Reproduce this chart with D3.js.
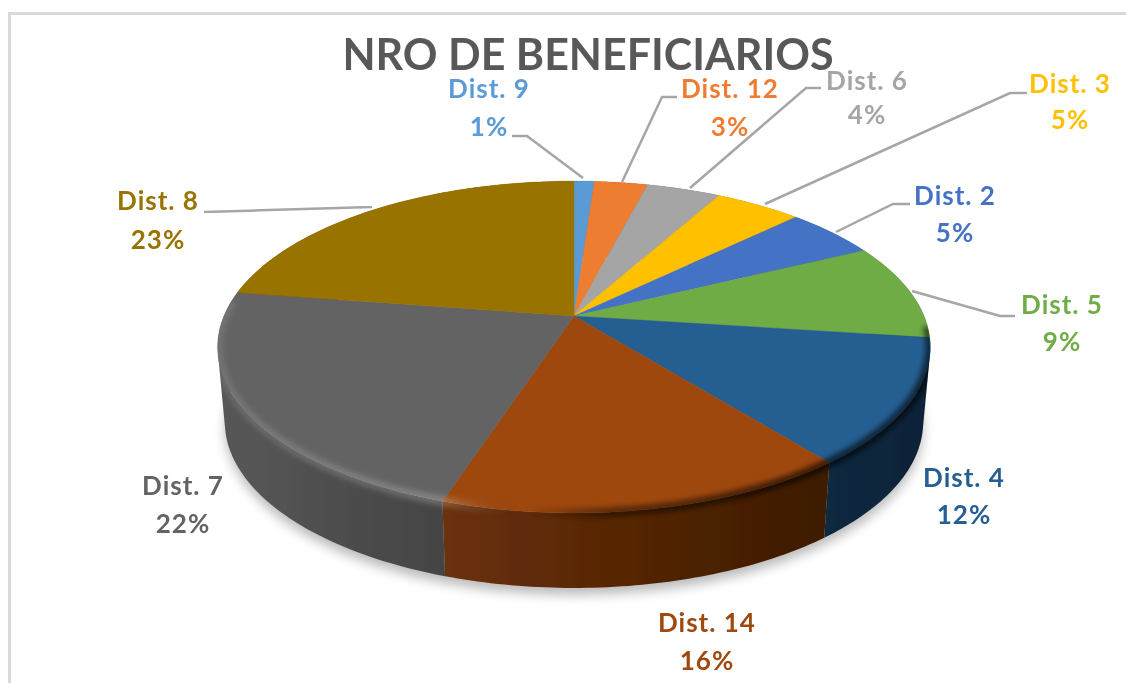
<!DOCTYPE html>
<html><head><meta charset="utf-8">
<script src="https://cdn.jsdelivr.net/npm/d3@7/dist/d3.min.js"></script>
<style>html,body{margin:0;padding:0;background:#fff;overflow:hidden}svg{display:block}text{font-family:Lato,"Noto Sans",sans-serif;font-weight:700}</style>
</head><body><svg id="c" width="1126" height="683"></svg>
<script>
const categories=["Dist. 9","Dist. 12","Dist. 6","Dist. 3","Dist. 2","Dist. 5","Dist. 4","Dist. 14","Dist. 7","Dist. 8"];
const shares=[1.1,2.9,4.0,4.7,5.0,9.4,12.2,15.7,22.4,22.6];
const faceColors=["#5b9bd5","#ed7d31","#a5a5a5","#ffc000","#4472c4","#6fac46","#255e91","#9e480e","#636363","#997300"];
const labelColors=["#5b9bd5","#ed7d31","#a5a5a5","#ffc000","#4472c4","#70ad47","#255e91","#9e480e","#636363","#997300"];
const sideLeft=["#3a5f80","#8f4b1d","#636363","#997300","#294477","#43682b","#10293f","#6b3008","#585858","#5c4500"];
const sideRight=["#3a5f80","#8f4b1d","#636363","#997300","#294477","#2f4a1e","#0d2237","#3c1a03","#444444","#5c4500"];
const labelX=[489,730,867,1070,955,1062,964,707,183,158];
const labelY1=[89,89,81,84,196,305,478,623,486,201];
const labelY2=[127,127,115,120,233,342,515,661,524,240];
const leaders=[
 [[512,136],[527,136],[583,178]],
 [[677,97],[662,97],[622,182]],
 [[821,88],[806,88],[690,188]],
 [[1027,93],[1010,93],[765,204]],
 [[910,204],[893,204],[836,232]],
 [[1015,316],[1000,316],[912,291]],
 [],[],[],
 [[204,212],[372,207]]
];
const svg=d3.select("#c");
const cx=574,apexY=316,C=350,B=101,K=-0.187,depth=75,baseScale=0.98;
function proj(theta,r=1,d=0){
  const x=r*Math.sin(theta),y=-r*Math.cos(theta),w=1+K*y;
  const s=d?baseScale:1;
  return [cx+s*C*x/w,(apexY+B*y)/w+d];
}
const pieGen=d3.pie().sort(null).value(d=>d).startAngle(0).endAngle(2*Math.PI);
const arcs=pieGen(shares);
const line=d3.line();
function arcPts(a0,a1,d=0){
  return d3.range(0,61).map(i=>proj(a0+(a1-a0)*i/60,1,d));
}
const defs=svg.append("defs");
const blur=(id,s)=>defs.append("filter").attr("id",id).attr("x","-20%").attr("y","-20%").attr("width","140%").attr("height","140%").append("feGaussianBlur").attr("stdDeviation",s);
blur("sh",6);blur("rim",2.6);blur("soft",0.6);blur("txt",0.45);
arcs.forEach((a,i)=>{
  const g=defs.append("linearGradient").attr("id","side"+i).attr("gradientUnits","userSpaceOnUse");
  const xs=arcPts(a.startAngle,a.endAngle).map(p=>p[0]);
  g.attr("x1",d3.min(xs)).attr("x2",d3.max(xs)).attr("y1",0).attr("y2",0);
  g.append("stop").attr("offset",0).attr("stop-color",sideLeft[i]);
  g.append("stop").attr("offset",1).attr("stop-color",sideRight[i]);
});
const rimG=defs.append("linearGradient").attr("id","rimG").attr("gradientUnits","userSpaceOnUse").attr("x1",218).attr("x2",930).attr("y1",0).attr("y2",0);
[[0,"#fff",0.1],[0.32,"#fff",0.2],[0.43,"#000",0.0],[0.55,"#000",0.4],[0.85,"#000",0.6],[1,"#000",0.55]].forEach(s=>rimG.append("stop").attr("offset",s[0]).attr("stop-color",s[1]).attr("stop-opacity",s[2]));
// outline of the whole solid
const full=arcPts(0,2*Math.PI), fullBase=arcPts(0,2*Math.PI,depth);
const hull=d3.polygonHull(full.concat(fullBase));
defs.append("clipPath").attr("id","solid").append("path").attr("d",line(hull)+"Z");

// frame
svg.append("path").attr("d","M9.5 683V13.5H1126").attr("fill","none").attr("stroke","#d9d9d9").attr("stroke-width",3);
// ground shadow
svg.append("path").attr("d",line(fullBase.map(p=>[p[0],p[1]+7]))+"Z").attr("fill","#000").attr("opacity",0.27).attr("filter","url(#sh)");
// sides: each slice is one path of consistently wound quads, so the outline follows the tangent between top and base
arcs.forEach((a,i)=>{
  const top=arcPts(a.startAngle,a.endAngle),bot=arcPts(a.startAngle,a.endAngle,depth);
  const d=d3.range(60).map(k=>{
    const q=[top[k],top[k+1],bot[k+1],bot[k]];
    if(d3.polygonArea(q)<0)q.reverse();
    return line(q)+"Z";
  }).join("");
  svg.append("path").attr("d",d).attr("fill",`url(#side${i})`).attr("filter","url(#soft)");
});
// top faces
arcs.forEach((a,i)=>{
  svg.append("path").attr("d",line([[cx,apexY]].concat(arcPts(a.startAngle,a.endAngle)))+"Z").attr("fill",faceColors[i]).attr("stroke",faceColors[i]).attr("stroke-width",0.4);
});
// bevel along the front rim
svg.append("g").attr("clip-path","url(#solid)").append("path").attr("d",line(arcPts(Math.PI*0.52,Math.PI*1.53)).toString()).attr("fill","none").attr("stroke","url(#rimG)").attr("stroke-width",10).attr("filter","url(#rim)");
// leaders
leaders.forEach(l=>{if(l.length)svg.append("path").attr("d",line(l)).attr("fill","none").attr("stroke","#a6a6a6").attr("stroke-width",2.5).attr("filter","url(#soft)");});
// title
svg.append("text").attr("x",588).attr("y",70).attr("text-anchor","middle").attr("font-size",43).attr("fill","#595959").attr("filter","url(#txt)").text("NRO DE BENEFICIARIOS");
// labels
const fmt=v=>Math.round(v)+"%";
categories.forEach((c,i)=>{
  svg.append("text").attr("x",labelX[i]).attr("y",labelY1[i]).attr("dy","0.36em").attr("text-anchor","middle").attr("font-size",26).attr("letter-spacing",1).attr("fill",labelColors[i]).attr("filter","url(#txt)").text(c);
  svg.append("text").attr("x",labelX[i]).attr("y",labelY2[i]).attr("dy","0.36em").attr("text-anchor","middle").attr("font-size",26).attr("letter-spacing",1).attr("fill",labelColors[i]).attr("filter","url(#txt)").text(fmt(shares[i]));
});
</script></body></html>
